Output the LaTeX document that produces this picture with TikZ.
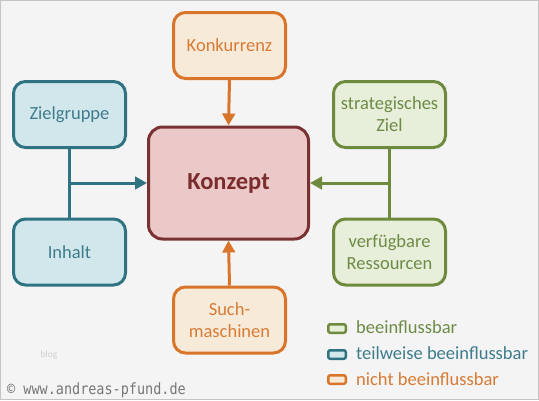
\documentclass[tikz,border=0pt]{standalone}
\usepackage{fontspec}
\setmainfont{Carlito}
\newfontfamily\wmfont[FakeStretch=0.87]{DejaVu Sans Mono}
\usetikzlibrary{arrows.meta}
\definecolor{bgc}{HTML}{F4F4F4}
\definecolor{bordc}{HTML}{C4C4C4}
\definecolor{ostroke}{HTML}{D9752B}
\definecolor{ofill}{HTML}{F8EAD9}
\definecolor{otext}{HTML}{D77B35}
\definecolor{bstroke}{HTML}{2F7383}
\definecolor{bfill}{HTML}{D2E7EC}
\definecolor{btext}{HTML}{3E7C8C}
\definecolor{gstroke}{HTML}{6E8B3D}
\definecolor{gfill}{HTML}{E7EEDA}
\definecolor{gtext}{HTML}{6E8B45}
\definecolor{kstroke}{HTML}{7A3131}
\definecolor{kfill}{HTML}{EBC9C8}
\definecolor{ktext}{HTML}{7B2C2C}
\definecolor{wmc}{HTML}{777777}
\definecolor{blogc}{HTML}{D0D0D0}
\tikzset{
  box/.style={rectangle, rounded corners=12pt, line width=3pt, minimum width=112pt, minimum height=66pt, align=center, inner sep=2pt, font=\fontsize{18.5}{22}\selectfont},
  obox/.style={box, draw=ostroke, fill=ofill, text=otext},
  bbox/.style={box, draw=bstroke, fill=bfill, text=btext},
  gbox/.style={box, draw=gstroke, fill=gfill, text=gtext},
  legbox/.style={rectangle, rounded corners=2pt, line width=2.5pt, minimum width=17.5pt, minimum height=8.5pt, inner sep=0pt},
  legtext/.style={anchor=base west, inner sep=0pt, font=\fontsize{18.5}{22}\selectfont},
  conn/.style={line width=3pt},
  tip/.style={-{Triangle[length=12pt,width=12.5pt]}}
}
\begin{document}
\begin{tikzpicture}[x=1pt,y=-1pt]
  \fill[bgc] (0,0) rectangle (539,400);
  \draw[bordc, line width=1.2pt] (0.6,0.6) rectangle (538.4,399.4);
  \useasboundingbox (0,0) rectangle (539,400);

  \node[obox] (konk) at (229.5,45.5) {Konkurrenz};
  \node[rectangle, rounded corners=14pt, line width=3pt, draw=kstroke, fill=kfill, text=ktext,
        minimum width=160pt, minimum height=112pt, font=\fontsize{24.5}{28}\selectfont\bfseries] (konzept) at (228.5,183) {Konzept};
  \node[bbox] (zg) at (69.5,114.5) {Zielgruppe};
  \node[bbox] (inh) at (69.5,252) {Inhalt};
  \node[gbox] (strat) at (389.5,114.5) {strategisches\\Ziel};
  \node[gbox] (ress) at (389.5,252) {verfügbare\\Ressourcen};
  \node[obox] (such) at (229.5,320) {Such-\\maschinen};

  \draw[conn, ostroke, tip] (konk.south) -- (konzept.north);
  \draw[conn, ostroke, tip] (such.north) -- (konzept.south);

  \draw[conn, bstroke] (zg.south) -- (inh.north);
  \coordinate (lj) at (zg.south |- konzept.west);
  \draw[conn, bstroke, tip] (lj) -- (konzept.west);

  \draw[conn, gstroke] (strat.south) -- (ress.north);
  \coordinate (rj) at (strat.south |- konzept.east);
  \draw[conn, gstroke, tip] (rj) -- (konzept.east);

  \node[legbox, draw=gstroke, fill=gfill] (lg) at (337,328.5) {};
  \node[legbox, draw=bstroke, fill=bfill] (lb) at (337,354.5) {};
  \node[legbox, draw=ostroke, fill=ofill] (lo) at (337,379.5) {};
  \node[legtext, text=gtext] (tg) at (356,333.5) {beeinflussbar};
  \node[legtext, text=btext] (tb) at (356,359.5) {teilweise beeinflussbar};
  \node[legtext, text=otext] (to) at (356,385) {nicht beeinflussbar};

  \node[anchor=center, inner sep=0pt, text=blogc, font=\fontsize{9.5}{11}\selectfont] (blog) at (49,355) {blog};
  \node[anchor=base west, inner sep=0pt, text=wmc, font=\fontsize{15.5}{18}\wmfont] (wm) at (7,394.5) {© www.andreas-pfund.de};
\end{tikzpicture}
\end{document}
